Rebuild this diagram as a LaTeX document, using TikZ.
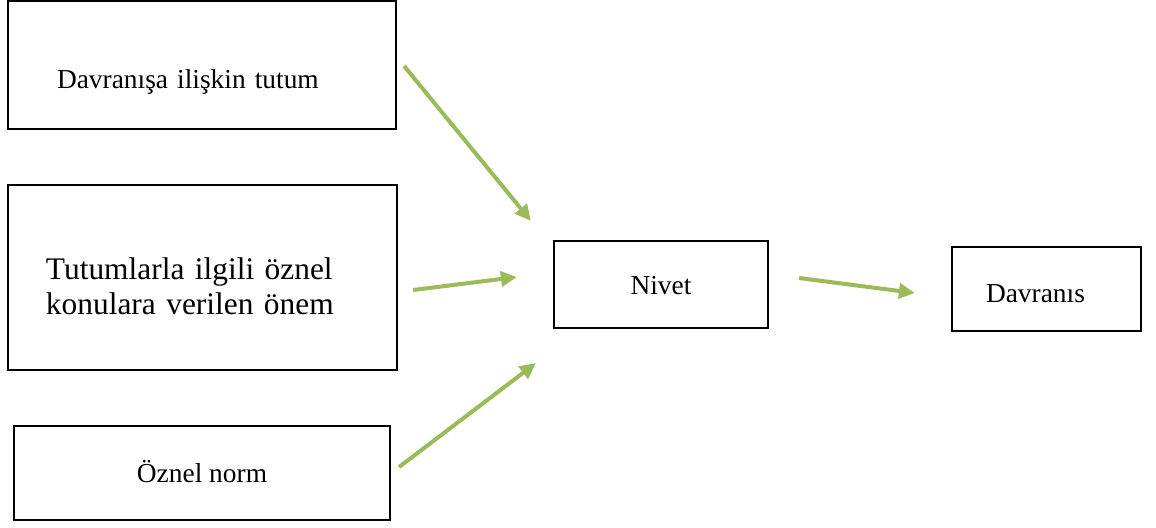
\documentclass[tikz,border=0pt]{standalone}
\usepackage{fontspec}
\setmainfont{Liberation Serif}
\usetikzlibrary{arrows.meta,calc}
\definecolor{OKc}{RGB}{155,187,89}
\tikzset{
  kutu/.style={draw=black,line width=1.1pt,inner ysep=0pt,
               font=\fontsize{13.7}{16}\selectfont,text depth=0pt},
  sol/.style={align=left},
  ok/.style={-{Triangle[length=8pt,width=7.5pt]},line width=2pt,OKc},
}

\begin{document}
\begin{tikzpicture}[x=0.5pt,y=-0.5pt]
  \useasboundingbox (0,0) rectangle (1156,527);
  % left column
  \node[kutu,sol,inner xsep=24.5pt,text width=145pt,minimum width=194pt,
        minimum height=64pt,text height=23pt] (tutum) at (202,65) {Davranışa ilişkin tutum};
  \node[kutu,sol,inner xsep=19pt,text width=156.5pt,minimum width=194.5pt,
        minimum height=92.5pt,font=\fontsize{15.7}{17.5}\selectfont,
        text height=23pt,text depth=21.5pt] (onem) at (202.5,277.5)
        {Tutumlarla ilgili öznel\\konulara verilen önem};
  \node[kutu,minimum width=188pt,minimum height=47pt,text height=9pt] (norm) at (202,473) {Öznel norm};
  % right part
  \node[kutu,minimum width=107pt,minimum height=43.5pt,text height=9.5pt] (niyet) at (661,284.5) {Nivet};
  \node[kutu,sol,inner xsep=17pt,text width=60.5pt,minimum width=94.5pt,
        minimum height=42pt,text height=13pt] (davranis) at (1046.5,289) {Davranıs};
  % arrows
  \draw[ok] ($(tutum.east)+(7,1)$) -- ($(niyet.north west)+(-22,-19)$);
  \draw[ok] ($(onem.east)+(15,12.5)$) -- ($(niyet.west)+(-36,-7.5)$);
  \draw[ok] ($(norm.east)+(8,-6)$) -- ($(niyet.south west)+(-17,34)$);
  \draw[ok] ($(niyet.east)+(30,-6.5)$) -- ($(davranis.west)+(-36,4)$);
\end{tikzpicture}
\end{document}
